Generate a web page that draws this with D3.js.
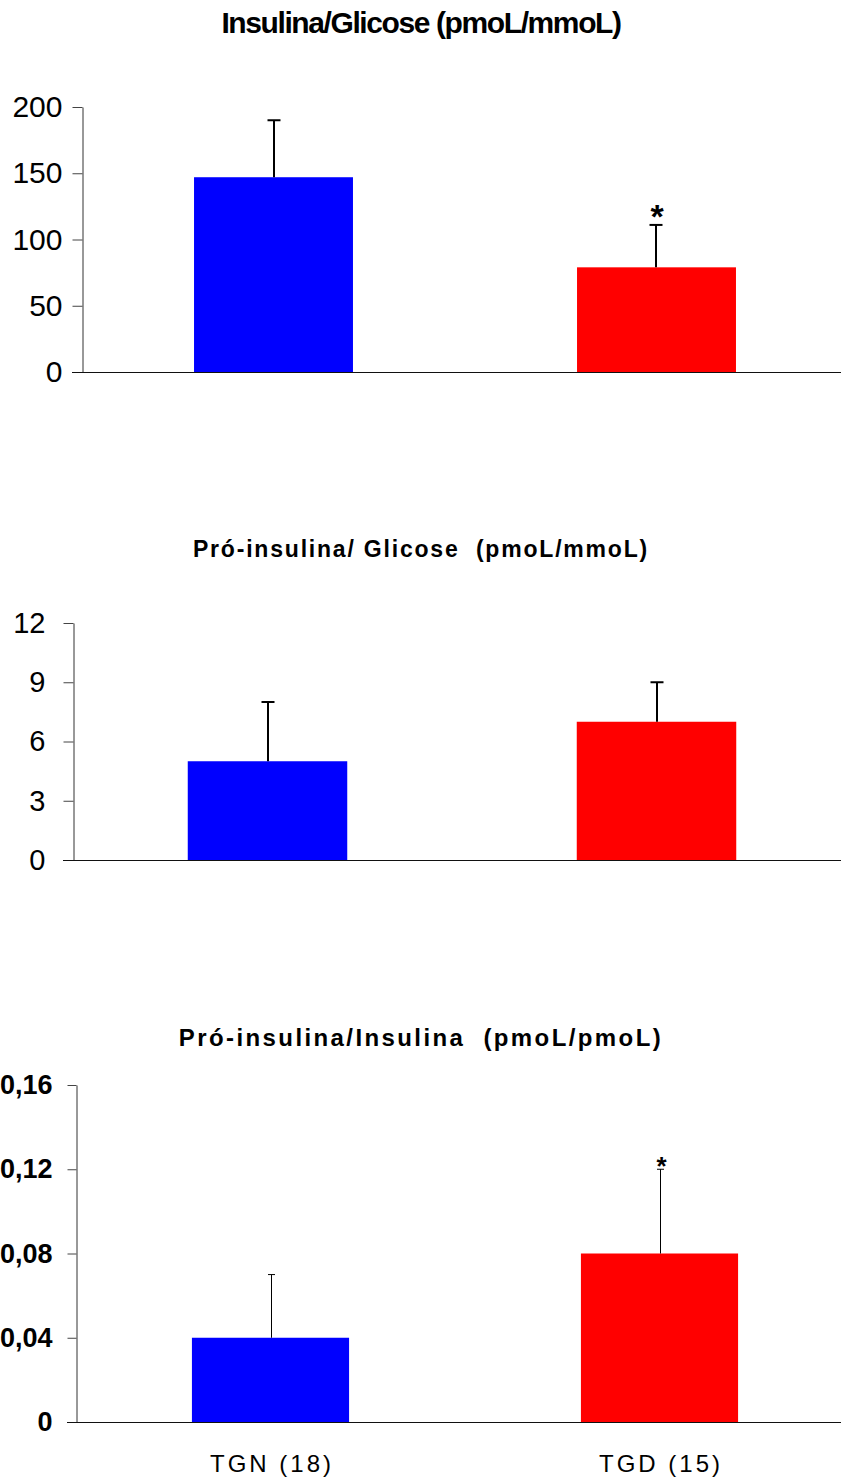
<!DOCTYPE html>
<html>
<head>
<meta charset="utf-8">
<script src="https://cdn.jsdelivr.net/npm/d3@7"></script>
<style>
  html, body { margin: 0; padding: 0; background: #fff; }
  svg text { font-family: "Liberation Sans", Arial, sans-serif; white-space: pre; }
</style>
</head>
<body>
<svg id="chart" width="841" height="1482"></svg>
<script>
// Groups and values (mean, upper error = SEM)
const categories = ["TGN (18)", "TGD (15)"];
const barColors = ["#0000FF", "#FF0000"];

const insulinaGlicose = [147, 79];
const insulinaGlicoseErr = [43, 32];
const insulinaGlicoseTicks = [0, 50, 100, 150, 200];
const insulinaGlicoseSig = [false, true];

const proinsGlicose = [5, 7];
const proinsGlicoseErr = [3, 2];
const proinsGlicoseTicks = [0, 3, 6, 9, 12];
const proinsGlicoseSig = [false, false];

const proinsInsulina = [0.04, 0.08];
const proinsInsulinaErr = [0.03, 0.04];
const proinsInsulinaTicks = [0, 0.04, 0.08, 0.12, 0.16];
const proinsInsulinaTickLabels = ["0", "0,04", "0,08", "0,12", "0,16"];
const proinsInsulinaSig = [false, true];

const titles = [
  "Insulina/Glicose (pmoL/mmoL)",
  "Pró-insulina/ Glicose  (pmoL/mmoL)",
  "Pró-insulina/Insulina  (pmoL/pmoL)"
];

const svg = d3.select("#chart");

const panels = [
  {
    title: titles[0], titleY: 33, titleSize: 30, titleWeight: "bold", titleSpacing: -1.4,
    values: insulinaGlicose, errs: insulinaGlicoseErr, ticks: insulinaGlicoseTicks,
    fmt: d => String(d), sig: insulinaGlicoseSig,
    axisX: 82, xEnd: 848, y0: 372, yTop: 107, inner: 0.585,
    tickSize: 10, tickPad: 10, tickFont: 30, tickWeight: "normal",
    errW: 2, capW: 13, starSize: 34, starLift: 14
  },
  {
    title: titles[1], titleY: 557, titleSize: 23, titleWeight: "bold", titleSpacing: 1.8,
    values: proinsGlicose, errs: proinsGlicoseErr, ticks: proinsGlicoseTicks,
    fmt: d => String(d), sig: proinsGlicoseSig,
    axisX: 73, xEnd: 851, y0: 860, yTop: 623, inner: 0.59,
    tickSize: 10, tickPad: 18, tickFont: 29, tickWeight: "normal",
    errW: 2, capW: 13, starSize: 30, starLift: 14
  },
  {
    title: titles[2], titleY: 1046, titleSize: 24, titleWeight: "bold", titleSpacing: 2.4,
    values: proinsInsulina, errs: proinsInsulinaErr, ticks: proinsInsulinaTicks,
    fmt: (d, i) => proinsInsulinaTickLabels[i], sig: proinsInsulinaSig,
    axisX: 76, xEnd: 854, y0: 1422, yTop: 1085, inner: 0.596,
    tickSize: 9, tickPad: 15, tickFont: 27, tickWeight: "bold",
    errW: 1, capW: 7, starSize: 26, starLift: 7
  }
];

panels.forEach((p, pi) => {
  const g = svg.append("g");

  const x = d3.scaleBand()
    .domain(categories)
    .range([p.axisX, p.xEnd])
    .paddingInner(p.inner)
    .paddingOuter(p.inner / 2);

  const yMax = p.ticks[p.ticks.length - 1];
  const y = d3.scaleLinear().domain([0, yMax]).range([p.y0, p.yTop]);

  // title
  g.append("text")
    .attr("x", 421)
    .attr("y", p.titleY)
    .attr("text-anchor", "middle")
    .style("font-size", p.titleSize + "px")
    .style("font-weight", p.titleWeight)
    .style("letter-spacing", p.titleSpacing + "px")
    .text(p.title);

  // bars
  g.selectAll("rect.bar")
    .data(p.values)
    .join("rect")
    .attr("class", "bar")
    .attr("x", (d, i) => x(categories[i]))
    .attr("width", x.bandwidth())
    .attr("y", d => y(d))
    .attr("height", d => p.y0 - y(d))
    .attr("fill", (d, i) => barColors[i]);

  // value axis
  const axis = d3.axisLeft(y)
    .tickValues(p.ticks)
    .tickFormat(p.fmt)
    .tickSize(p.tickSize)
    .tickSizeOuter(0)
    .tickPadding(p.tickPad);

  const ag = g.append("g")
    .attr("transform", `translate(${p.axisX + 0.5},0)`)
    .call(axis);
  ag.select(".domain").attr("stroke", "#333").attr("stroke-width", 1);
  ag.selectAll(".tick line").attr("stroke", "#444");
  ag.selectAll(".tick text")
    .attr("fill", "#000")
    .style("font-family", "'Liberation Sans', Arial, sans-serif")
    .style("font-size", p.tickFont + "px")
    .style("font-weight", p.tickWeight);

  // category baseline
  g.append("line")
    .attr("x1", p.axisX - p.tickSize)
    .attr("x2", 841)
    .attr("y1", p.y0 + 0.5)
    .attr("y2", p.y0 + 0.5)
    .attr("stroke", "#111")
    .attr("stroke-width", 1);

  // error bars (upper only)
  p.values.forEach((v, i) => {
    const cx = Math.round(x(categories[i]) + x.bandwidth() / 2) + (p.errW === 1 ? 0.5 : 0);
    const yt = y(v + p.errs[i]);
    g.append("line")
      .attr("x1", cx).attr("x2", cx)
      .attr("y1", y(v)).attr("y2", yt)
      .attr("stroke", "#000").attr("stroke-width", p.errW);
    g.append("line")
      .attr("x1", cx - p.capW / 2).attr("x2", cx + p.capW / 2)
      .attr("y1", yt).attr("y2", yt)
      .attr("stroke", "#000").attr("stroke-width", p.errW);

    if (p.sig[i]) {
      g.append("text")
        .attr("x", cx + 1)
        .attr("y", yt - 2 + p.starSize * 0.55 - p.starLift)
        .attr("text-anchor", "middle")
        .style("font-size", p.starSize + "px")
        .style("font-weight", "bold")
        .text("*");
    }
  });

  // category labels below the last panel
  if (pi === panels.length - 1) {
    g.selectAll("text.cat")
      .data(categories)
      .join("text")
      .attr("class", "cat")
      .attr("x", d => x(d) + x.bandwidth() / 2 + 1.5)
      .attr("y", 1472)
      .attr("text-anchor", "middle")
      .style("font-size", "24px")
      .style("letter-spacing", "3px")
      .text(d => d);
  }
});
</script>
</body>
</html>
